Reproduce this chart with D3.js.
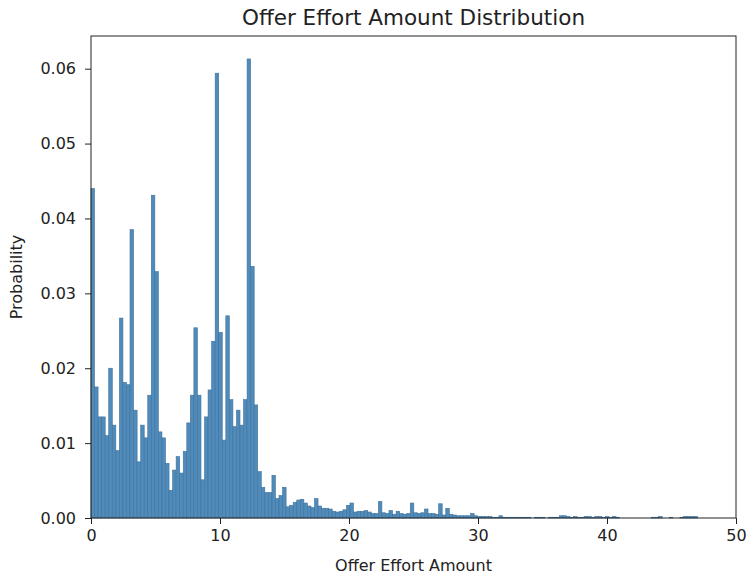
<!DOCTYPE html>
<html>
<head>
<meta charset="utf-8">
<script src="https://cdn.jsdelivr.net/npm/d3@7"></script>
<style>
  html, body { margin: 0; padding: 0; background: #fff; }
  svg { display: block; font-family: "DejaVu Sans", sans-serif; }
</style>
</head>
<body>
<svg id="chart" width="748" height="579"></svg>
<script>
// Histogram of offer effort amounts: bin width and per-bin probability.
const binWidth = 0.275;
const probabilities = [
  0.0440, 0.0175, 0.0135, 0.0135, 0.0110, 0.0200, 0.0124, 0.0090, 0.0267, 0.0181,
  0.0178, 0.0385, 0.0144, 0.0075, 0.0124, 0.0107, 0.0164, 0.0431, 0.0329, 0.0115,
  0.0107, 0.0073, 0.0037, 0.0064, 0.0082, 0.0060, 0.0089, 0.0127, 0.0164, 0.0254,
  0.0164, 0.0051, 0.0135, 0.0171, 0.0236, 0.0594, 0.0248, 0.0104, 0.0270, 0.0158,
  0.0122, 0.0144, 0.0124, 0.0158, 0.0613, 0.0336, 0.0151, 0.0062, 0.0041, 0.0034,
  0.0034, 0.0057, 0.0026, 0.0030, 0.0041, 0.0015, 0.0017, 0.0021, 0.0024, 0.0025,
  0.0020, 0.0016, 0.0014, 0.0026, 0.0016, 0.0013, 0.0013, 0.0012, 0.0009, 0.0008,
  0.0009, 0.0011, 0.0017, 0.0020, 0.0008, 0.0009, 0.0009, 0.0010, 0.0008, 0.0006,
  0.0006, 0.0022, 0.0007, 0.0006, 0.0010, 0.0005, 0.0009, 0.0006, 0.0005, 0.0006,
  0.0020, 0.0007, 0.0006, 0.0007, 0.0012, 0.0006, 0.0006, 0.0005, 0.0019, 0.0004,
  0.0013, 0.0005, 0.0004, 0.0003, 0.0003, 0.0003, 0.0003, 0.0006, 0.0003, 0.0002,
  0.0002, 0.0002, 0.0002, 0.0001, 0.0001, 0.0003, 0.0001, 0.0001, 0.0001, 0.0001,
  0.0001, 0.0001, 0.0001, 0.0001, 0.0000, 0.0001, 0.0001, 0.0001, 0.0000, 0.0001,
  0.0001, 0.0001, 0.0003, 0.0003, 0.0002, 0.0001, 0.0002, 0.0001, 0.0001, 0.0002,
  0.0002, 0.0001, 0.0002, 0.0002, 0.0001, 0.0002, 0.0001, 0.0002, 0.0001, 0.0000,
  0.0000, 0.0000, 0.0000, 0.0000, 0.0000, 0.0000, 0.0000, 0.0000, 0.0001, 0.0001,
  0.0002, 0.0000, 0.0000, 0.0001, 0.0000, 0.0000, 0.0001, 0.0002, 0.0002, 0.0002,
  0.0002
];
const xTicks = [0, 10, 20, 30, 40, 50];
const yTicks = [0, 0.01, 0.02, 0.03, 0.04, 0.05, 0.06];

const bins = probabilities.map((p, i) => ({ x0: i * binWidth, x1: (i + 1) * binWidth, p }));

const margin = { top: 36, right: 12, bottom: 61, left: 91 };
const width = 748, height = 579;
const svg = d3.select("#chart");

const x = d3.scaleLinear().domain([0, 50]).range([margin.left, width - margin.right]);
const y = d3.scaleLinear().domain([0, d3.max(probabilities) * 1.05]).range([height - margin.bottom, margin.top]);

// bars
svg.append("g")
  .selectAll("rect")
  .data(bins)
  .join("rect")
  .attr("x", d => x(d.x0))
  .attr("y", d => y(d.p))
  .attr("width", d => x(d.x1) - x(d.x0))
  .attr("height", d => y(0) - y(d.p))
  .attr("fill", "#4f8bbb")
  .attr("stroke", "#41729b")
  .attr("stroke-width", 0.6);

// axes
const xAxis = svg.append("g")
  .attr("transform", `translate(0,${y(0)})`)
  .call(d3.axisBottom(x).tickValues(xTicks).tickFormat(d3.format("d")).tickSize(6).tickPadding(6));
const yAxis = svg.append("g")
  .attr("transform", `translate(${x(0)},0)`)
  .call(d3.axisLeft(y).tickValues(yTicks).tickFormat(d3.format(".2f")).tickSize(6).tickPadding(9));

[xAxis, yAxis].forEach(g => {
  g.select(".domain").remove();
  g.selectAll("text").attr("font-size", 16).attr("fill", "#222").attr("font-family", "DejaVu Sans, sans-serif");
  g.selectAll("line").attr("stroke", "#222");
});

// plot frame
svg.append("rect")
  .attr("x", x(0)).attr("y", margin.top)
  .attr("width", x(50) - x(0)).attr("height", y(0) - margin.top)
  .attr("fill", "none").attr("stroke", "#222").attr("stroke-width", 1);

// title and axis labels
svg.append("text")
  .attr("x", (x(0) + x(50)) / 2).attr("y", 25)
  .attr("text-anchor", "middle").attr("font-size", 21.5).attr("fill", "#222")
  .text("Offer Effort Amount Distribution");
svg.append("text")
  .attr("x", (x(0) + x(50)) / 2).attr("y", 571)
  .attr("text-anchor", "middle").attr("font-size", 16).attr("fill", "#222")
  .text("Offer Effort Amount");
svg.append("text")
  .attr("transform", `translate(22,${(y(0) + margin.top) / 2}) rotate(-90)`)
  .attr("text-anchor", "middle").attr("font-size", 16).attr("fill", "#222")
  .text("Probability");
</script>
</body>
</html>
